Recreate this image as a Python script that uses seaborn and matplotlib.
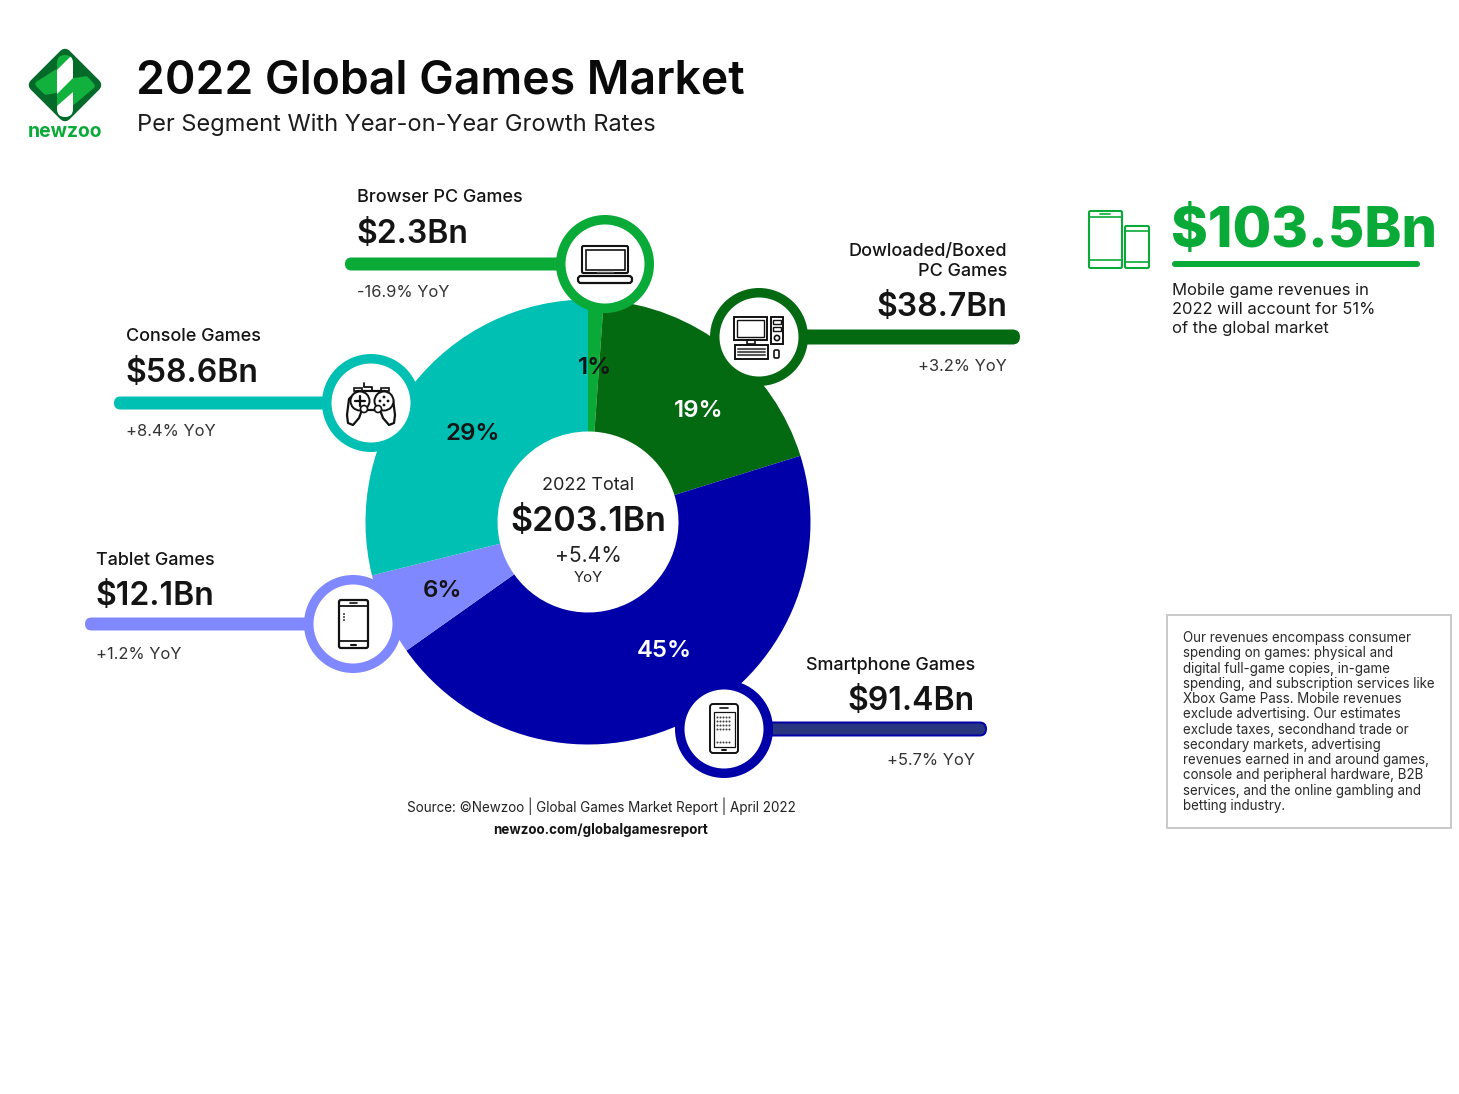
import matplotlib
matplotlib.use('Agg')
import matplotlib.pyplot as plt
import seaborn as sns
from matplotlib.patches import Circle, Rectangle, FancyBboxPatch, Polygon

# Data
segments = ['Browser PC Games', 'Dowloaded/Boxed\nPC Games', 'Smartphone Games', 'Tablet Games', 'Console Games']
revenue = [2.3, 38.7, 91.4, 12.1, 58.6]
share_labels = ['1%', '19%', '45%', '6%', '29%']
yoy_labels = ['-16.9% YoY', '+3.2% YoY', '+5.7% YoY', '+1.2% YoY', '+8.4% YoY']
colors = ['#0AAA38', '#046A12', '#0000A8', '#8088FF', '#00BFB3']

W, H = 1459, 1094
DARK = '#141414'
GREEN = '#0AAA38'

sns.set_theme(style='white')
plt.rcParams['font.family'] = ['Inter', 'DejaVu Sans']
palette = sns.color_palette(colors)

fig = plt.figure(figsize=(W / 100, H / 100), dpi=100, facecolor='white')

# donut
cx, cy, rad = 588, 522, 222.5
ax_pie = fig.add_axes([(cx - rad) / W, 1 - (cy + rad) / H, 2 * rad / W, 2 * rad / H], zorder=1)
ax_pie.pie(revenue, colors=palette, startangle=90, counterclock=False, radius=1,
           wedgeprops={'width': 1 - 90.5 / rad, 'linewidth': 0, 'clip_on': False})
ax_pie.set_xlim(-1, 1)
ax_pie.set_ylim(-1, 1)

# everything else goes on a pixel overlay
ax = fig.add_axes([0, 0, 1, 1], zorder=2)
ax.set_xlim(0, W)
ax.set_ylim(H, 0)
ax.axis('off')
ax.patch.set_alpha(0)


def px(size):
    return size * 0.72


def txt(x, y, s, size, weight='normal', color=DARK, ha='left', **kw):
    ax.text(x, y, s, fontsize=px(size), fontweight=weight, color=color, ha=ha, va='baseline', **kw)


def rbox(x0, y0, x1, y1, r, lw=1.5, ec='#111111', fc='none', z=6):
    p = FancyBboxPatch((x0 + r, y0 + r), x1 - x0 - 2 * r, y1 - y0 - 2 * r,
                       boxstyle=f'round,pad={r}', lw=lw, ec=ec, fc=fc, zorder=z)
    ax.add_patch(p)
    return p


def rect(x0, y0, x1, y1, lw=1.4, ec='#111111', fc='none', z=6):
    ax.add_patch(Rectangle((x0, y0), x1 - x0, y1 - y0, lw=lw, ec=ec, fc=fc, zorder=z))


def seg(xs, ys, lw=1.4, color='#111111', z=6):
    ax.plot(xs, ys, lw=lw, color=color, zorder=z, solid_capstyle='round')


def hub(x, y, color, x0, x1, thick, fill=None):
    rbox(x0, y - thick / 2, x1, y + thick / 2, thick / 2 - 0.01, lw=0, ec='none', fc=color, z=2)
    if fill:
        rbox(x0 + 2, y - thick / 2 + 2, x1 - 2, y + thick / 2 - 2, thick / 2 - 2.01, lw=0, ec='none', fc=fill, z=2.5)
    ax.add_patch(Circle((x, y), 49, fc=color, ec='none', zorder=3))
    ax.add_patch(Circle((x, y), 39.5, fc='white', ec='none', zorder=4))


hub(605, 264, palette[0], 345, 575, 13)
hub(759, 337, palette[1], 780, 1020, 15)
hub(724, 729, palette[2], 750, 987, 15, fill='#2A3580')
hub(353, 624, palette[3], 85, 330, 13)
hub(371, 403, palette[4], 114, 350, 13)

# slice labels
share_xy = [(595, 368), (699, 411), (664, 651), (442, 591), (473, 434)]
share_color = [DARK, 'white', 'white', DARK, DARK]
for (x, y), s, c in zip(share_xy, share_labels, share_color):
    ax.text(x, y, s, fontsize=px(24), fontweight='semibold', color=c, ha='center', va='center', zorder=5)

# centre
txt(588, 490, '2022 Total', 18, ha='center', color='#222222')
txt(588, 531, '$203.1Bn', 34, 'semibold', ha='center')
txt(588, 562, '+5.4%', 21, ha='center', color='#222222')
txt(588, 582, 'YoY', 15, ha='center', color='#222222')

# segment callouts: x, label baseline, value baseline, yoy baseline, alignment
call = [(357, 202, 243, 297, 'left'), (1007, 276, 316, 371, 'right'), (975, 670, 710, 765, 'right'),
        (96, 565, 605, 659, 'left'), (126, 341, 382, 436, 'left')]
for (x, yl, yv, yy, ha), name, val, yoy in zip(call, segments, revenue, yoy_labels):
    parts = name.split('\n')
    for i, line in enumerate(parts):
        txt(x, yl - (len(parts) - 1 - i) * 20, line, 18, 'medium', ha=ha)
    txt(x - 1 if ha == 'left' else x, yv, f'${val}Bn', 32, 'semibold', ha=ha)
    txt(x, yy, yoy, 16.5, ha=ha, color='#333333')

# header
txt(136, 94, '2022 Global Games Market', 46.3, 'semibold', color='#0A0A0A')
txt(137, 131, 'Per Segment With Year-on-Year Growth Rates', 23.6, color='#1C1C1C')

# logo
ax.add_patch(Polygon([(65, 55), (95, 85), (65, 115), (35, 85)], closed=True, fc='#046A2A', ec='#046A2A',
                     lw=9, joinstyle='round', zorder=2))
ax.add_patch(Polygon([(38, 84), (57, 72), (57, 90), (46, 92)], closed=True, fc='#12B03C', ec='#12B03C',
                     lw=4, joinstyle='round', zorder=3))
ax.add_patch(Polygon([(73, 81), (86, 79), (92, 86), (73, 102)], closed=True, fc='#12B03C', ec='#12B03C',
                     lw=4, joinstyle='round', zorder=3))
cap = rbox(57, 55, 73, 117, 7.99, lw=0, ec='none', fc='#12B03C', z=4)
w1 = Polygon([(57, 70), (73, 54), (73, 78), (57, 94)], closed=True, fc='white', ec='none', zorder=5)
w2 = Polygon([(57, 106), (73, 92), (73, 120), (57, 120)], closed=True, fc='white', ec='none', zorder=5)
for p in (w1, w2):
    ax.add_patch(p)
    p.set_clip_path(cap)
txt(65, 137, 'newzoo', 19.3, 'bold', color=GREEN, ha='center')

# laptop
rbox(582, 246, 628, 273, 1.5)
rect(586, 250, 625, 270, lw=1.2)
rbox(578, 276, 632, 283, 3, lw=1.6)
seg([597, 613], [272, 272], lw=1, color='#555555')

# desktop
rect(734, 317, 767, 340)
rect(737, 320, 764, 337, lw=1)
rect(747, 340, 755, 344, lw=1.2)
rect(735, 345, 768, 359)
for yk in (349, 352, 355):
    seg([738, 765], [yk, yk], lw=1.5, color='#555555')
rect(771, 317, 783, 344)
rect(773, 320, 781, 324, lw=1)
rect(773, 327, 781, 331, lw=1)
ax.add_patch(Circle((777, 338), 2.6, fc='none', ec='#111111', lw=1.2, zorder=6))
rbox(774, 350, 779, 358, 1.5, lw=1.2)

# gamepad
gx = [347, 349, 357, 385, 393, 395, 394, 389, 383, 380, 362, 359, 353, 348, 347]
gy = [415, 399, 391, 391, 399, 415, 423, 425, 418, 410, 410, 418, 425, 423, 415]
ax.plot(gx, gy, lw=1.6, color='#111111', zorder=6, solid_joinstyle='round')
ax.add_patch(Circle((360, 401), 9.5, fc='white', ec='#111111', lw=1.4, zorder=6))
ax.add_patch(Circle((384, 401), 9.5, fc='white', ec='#111111', lw=1.4, zorder=6))
ax.add_patch(Circle((364, 409), 3.5, fc='white', ec='#111111', lw=1.2, zorder=7))
ax.add_patch(Circle((378, 409), 3.5, fc='white', ec='#111111', lw=1.2, zorder=7))
seg([355, 365], [401, 401], lw=1.6, z=7)
seg([360, 360], [396, 406], lw=1.6, z=7)
for dx, dy in [(384, 397), (380, 401), (388, 401), (384, 405)]:
    ax.add_patch(Circle((dx, dy), 1.4, fc='#111111', ec='none', zorder=7))
seg([372, 372, 364, 364], [391, 387, 387, 383], lw=1.3)
rect(354, 388, 362, 391, lw=1.2)
rect(381, 388, 389, 391, lw=1.2)

# tablet phone
rbox(339, 600, 368, 648, 2, lw=1.6)
seg([340, 367], [606, 606], lw=1.3)
seg([340, 367], [641, 641], lw=1.3)
seg([350, 357], [603, 603], lw=1.2)
seg([351, 356], [645, 645], lw=1.5)
for yd in (614, 617, 620):
    ax.add_patch(Circle((344, yd), 0.9, fc='#111111', ec='none', zorder=6))

# smartphone
rbox(710, 704, 738, 753, 3, lw=1.4)
rect(714, 712, 735, 747, lw=0.9)
seg([720, 728], [708, 708], lw=1.2)
seg([722, 726], [750, 750], lw=1.4)
ax.scatter([717 + 3 * i for i in range(5)] * 4, [717] * 5 + [721] * 5 + [725] * 5 + [729] * 5,
           s=2.2, color='#444444', linewidths=0, zorder=7)
ax.scatter([717 + 3 * i for i in range(5)], [742] * 5, s=2.2, color='#444444', linewidths=0, zorder=7)

# source
txt(601, 812, 'Source: ©Newzoo | Global Games Market Report | April 2022', 13.5, ha='center', color='#222222')
txt(601, 834, 'newzoo.com/globalgamesreport', 13.4, 'bold', ha='center')

# mobile callout
txt(1171, 247, '$103.5Bn', 56, 'heavy', color=GREEN)
rbox(1172, 261, 1420, 267, 2.99, lw=0, ec='none', fc=GREEN, z=3)
for i, line in enumerate(['Mobile game revenues in', '2022 will account for 51%', 'of the global market']):
    txt(1172, 295 + i * 19, line, 16.6, color='#1C1C1C')
rbox(1089, 211, 1122, 268, 1.5, lw=1.5, ec=GREEN)
seg([1090, 1121], [217, 217], lw=1.2, color=GREEN)
seg([1090, 1121], [260, 260], lw=1.2, color=GREEN)
seg([1100, 1110], [214, 214], lw=1.2, color=GREEN)
rbox(1125, 226, 1149, 268, 1.5, lw=1.5, ec=GREEN)
seg([1126, 1148], [231, 231], lw=1.2, color=GREEN)
seg([1126, 1148], [262, 262], lw=1.2, color=GREEN)

# note box
ax.add_patch(Rectangle((1167, 615), 284, 213, fc='white', ec='#C9C9C9', lw=1.4, zorder=2))
note = ['Our revenues encompass consumer', 'spending on games: physical and', 'digital full-game copies, in-game',
        'spending, and subscription services like', 'Xbox Game Pass. Mobile revenues',
        'exclude advertising. Our estimates', 'exclude taxes, secondhand trade or',
        'secondary markets, advertising', 'revenues earned in and around games,',
        'console and peripheral hardware, B2B', 'services, and the online gambling and', 'betting industry.']
for i, line in enumerate(note):
    txt(1183, 642 + i * 15.27, line, 13.35, color='#2A2A2A', zorder=3)

fig.savefig('out.png', dpi=100, facecolor='white')
